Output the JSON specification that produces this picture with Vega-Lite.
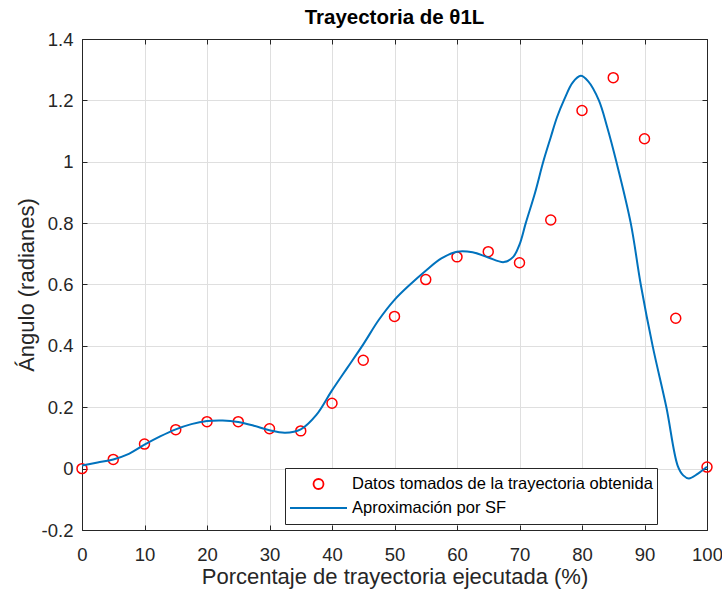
{
  "$schema": "https://vega.github.io/schema/vega-lite/v6.json",
  "width": 625,
  "height": 491,
  "autosize": "none",
  "padding": {"left": 82, "top": 39, "right": 15, "bottom": 65},
  "background": "white",
  "title": {"text": "Trayectoria de θ1L", "font": "Liberation Sans", "fontSize": 20.5, "fontWeight": "bold", "color": "#000000", "offset": 2},
  "config": {
    "view": {"stroke": "#262626", "strokeWidth": 1},
    "axis": {"labelFont": "Liberation Sans", "titleFont": "Liberation Sans", "labelColor": "#262626", "titleColor": "#262626", "domainColor": "#262626", "tickColor": "#262626", "gridColor": "#dfdfdf", "gridOpacity": 1, "titleFontWeight": "normal", "labelFlush": false, "labelOverlap": false}
  },
  "datasets": {
    "pts": [
      {"x": 0, "y": 0.0, "serie": "Datos tomados de la trayectoria obtenida"},
      {"x": 5, "y": 0.03, "serie": "Datos tomados de la trayectoria obtenida"},
      {"x": 10, "y": 0.08, "serie": "Datos tomados de la trayectoria obtenida"},
      {"x": 15, "y": 0.127, "serie": "Datos tomados de la trayectoria obtenida"},
      {"x": 20, "y": 0.153, "serie": "Datos tomados de la trayectoria obtenida"},
      {"x": 25, "y": 0.153, "serie": "Datos tomados de la trayectoria obtenida"},
      {"x": 30, "y": 0.13, "serie": "Datos tomados de la trayectoria obtenida"},
      {"x": 35, "y": 0.123, "serie": "Datos tomados de la trayectoria obtenida"},
      {"x": 40, "y": 0.213, "serie": "Datos tomados de la trayectoria obtenida"},
      {"x": 45, "y": 0.353, "serie": "Datos tomados de la trayectoria obtenida"},
      {"x": 50, "y": 0.496, "serie": "Datos tomados de la trayectoria obtenida"},
      {"x": 55, "y": 0.616, "serie": "Datos tomados de la trayectoria obtenida"},
      {"x": 60, "y": 0.69, "serie": "Datos tomados de la trayectoria obtenida"},
      {"x": 65, "y": 0.707, "serie": "Datos tomados de la trayectoria obtenida"},
      {"x": 70, "y": 0.671, "serie": "Datos tomados de la trayectoria obtenida"},
      {"x": 75, "y": 0.81, "serie": "Datos tomados de la trayectoria obtenida"},
      {"x": 80, "y": 1.167, "serie": "Datos tomados de la trayectoria obtenida"},
      {"x": 85, "y": 1.274, "serie": "Datos tomados de la trayectoria obtenida"},
      {"x": 90, "y": 1.075, "serie": "Datos tomados de la trayectoria obtenida"},
      {"x": 95, "y": 0.49, "serie": "Datos tomados de la trayectoria obtenida"},
      {"x": 100, "y": 0.005, "serie": "Datos tomados de la trayectoria obtenida"}
    ],
    "curve": [
      {"x": 0, "y": 0.01, "serie": "Aproximación por SF"},
      {"x": 2.5, "y": 0.02, "serie": "Aproximación por SF"},
      {"x": 5, "y": 0.03, "serie": "Aproximación por SF"},
      {"x": 7.5, "y": 0.048, "serie": "Aproximación por SF"},
      {"x": 10, "y": 0.078, "serie": "Aproximación por SF"},
      {"x": 12.5, "y": 0.105, "serie": "Aproximación por SF"},
      {"x": 15, "y": 0.128, "serie": "Aproximación por SF"},
      {"x": 17.5, "y": 0.145, "serie": "Aproximación por SF"},
      {"x": 20, "y": 0.155, "serie": "Aproximación por SF"},
      {"x": 22.5, "y": 0.157, "serie": "Aproximación por SF"},
      {"x": 25, "y": 0.152, "serie": "Aproximación por SF"},
      {"x": 27.5, "y": 0.14, "serie": "Aproximación por SF"},
      {"x": 30, "y": 0.125, "serie": "Aproximación por SF"},
      {"x": 32.5, "y": 0.117, "serie": "Aproximación por SF"},
      {"x": 35, "y": 0.128, "serie": "Aproximación por SF"},
      {"x": 37.5, "y": 0.175, "serie": "Aproximación por SF"},
      {"x": 40, "y": 0.255, "serie": "Aproximación por SF"},
      {"x": 42.5, "y": 0.33, "serie": "Aproximación por SF"},
      {"x": 45, "y": 0.405, "serie": "Aproximación por SF"},
      {"x": 47.5, "y": 0.485, "serie": "Aproximación por SF"},
      {"x": 50, "y": 0.55, "serie": "Aproximación por SF"},
      {"x": 52.5, "y": 0.6, "serie": "Aproximación por SF"},
      {"x": 55, "y": 0.645, "serie": "Aproximación por SF"},
      {"x": 57.5, "y": 0.685, "serie": "Aproximación por SF"},
      {"x": 60, "y": 0.707, "serie": "Aproximación por SF"},
      {"x": 62.5, "y": 0.705, "serie": "Aproximación por SF"},
      {"x": 65, "y": 0.688, "serie": "Aproximación por SF"},
      {"x": 67.5, "y": 0.673, "serie": "Aproximación por SF"},
      {"x": 69, "y": 0.69, "serie": "Aproximación por SF"},
      {"x": 70, "y": 0.73, "serie": "Aproximación por SF"},
      {"x": 71, "y": 0.8, "serie": "Aproximación por SF"},
      {"x": 72.5, "y": 0.9, "serie": "Aproximación por SF"},
      {"x": 73.8, "y": 1.0, "serie": "Aproximación por SF"},
      {"x": 75, "y": 1.08, "serie": "Aproximación por SF"},
      {"x": 76, "y": 1.145, "serie": "Aproximación por SF"},
      {"x": 77.2, "y": 1.205, "serie": "Aproximación por SF"},
      {"x": 78.5, "y": 1.258, "serie": "Aproximación por SF"},
      {"x": 79.8, "y": 1.28, "serie": "Aproximación por SF"},
      {"x": 81, "y": 1.262, "serie": "Aproximación por SF"},
      {"x": 82.7, "y": 1.2, "serie": "Aproximación por SF"},
      {"x": 84, "y": 1.115, "serie": "Aproximación por SF"},
      {"x": 85.5, "y": 1.0, "serie": "Aproximación por SF"},
      {"x": 87.8, "y": 0.8, "serie": "Aproximación por SF"},
      {"x": 89.4, "y": 0.6, "serie": "Aproximación por SF"},
      {"x": 91.3, "y": 0.4, "serie": "Aproximación por SF"},
      {"x": 93.5, "y": 0.2, "serie": "Aproximación por SF"},
      {"x": 95.3, "y": 0.01, "serie": "Aproximación por SF"},
      {"x": 96.2, "y": -0.022, "serie": "Aproximación por SF"},
      {"x": 97.1, "y": -0.032, "serie": "Aproximación por SF"},
      {"x": 98.5, "y": -0.017, "serie": "Aproximación por SF"},
      {"x": 100, "y": 0.006, "serie": "Aproximación por SF"}
    ]
  },
  "layer": [
    {
      "data": {"name": "pts"},
      "mark": {"type": "point", "filled": false, "strokeWidth": 1.5, "size": 3249, "opacity": 1},
      "encoding": {
        "x": {"field": "x", "type": "quantitative", "scale": {"domain": [0, 100], "nice": false},
          "axis": {"orient": "bottom", "title": "Porcentaje de trayectoria ejecutada (%)", "values": [0,10,20,30,40,50,60,70,80,90,100], "labelFontSize": 18.5, "titleFontSize": 22, "tickSize": -5, "labelPadding": 20, "titlePadding": 3, "grid": true}},
        "y": {"field": "y", "type": "quantitative", "scale": {"domain": [-0.2, 1.4], "nice": false, "zero": false},
          "axis": {"orient": "left", "title": "Ángulo (radianes)", "values": [-0.2,0,0.2,0.4,0.6,0.8,1,1.2,1.4], "labelExpr": "replace(format(datum.value, '~g'), '−', '-')", "labelFontSize": 18.5, "titleFontSize": 22, "tickSize": -5, "labelPadding": 14, "titlePadding": 3, "grid": true}},
        "color": {"field": "serie", "type": "nominal",
          "scale": {"domain": ["Datos tomados de la trayectoria obtenida", "Aproximación por SF"], "range": ["#ff0000", "#0072bd"]},
          "legend": {"title": null, "orient": "none", "legendX": 203, "legendY": 429, "direction": "vertical",
            "fillColor": "white", "strokeColor": "#262626", "padding": 4, "cornerRadius": 0,
            "labelFont": "Liberation Sans", "labelFontSize": 16.5, "labelColor": "#000000", "labelOffset": 4, "labelLimit": 0,
            "symbolSize": 3249, "symbolStrokeWidth": 1.8, "clipHeight": 24, "rowPadding": 0}},
        "shape": {"field": "serie", "type": "nominal",
          "scale": {"domain": ["Datos tomados de la trayectoria obtenida", "Aproximación por SF"], "range": ["M-0.175,0A0.175,0.175,0,1,1,0.175,0A0.175,0.175,0,1,1,-0.175,0Z", "stroke"]},
          "legend": {"title": null, "orient": "none", "legendX": 203, "legendY": 429, "direction": "vertical",
            "fillColor": "white", "strokeColor": "#262626", "padding": 4, "cornerRadius": 0,
            "labelFont": "Liberation Sans", "labelFontSize": 16.5, "labelColor": "#000000", "labelOffset": 4, "labelLimit": 0,
            "symbolSize": 3249, "symbolStrokeWidth": 1.8, "clipHeight": 24, "rowPadding": 0}}
      }
    },
    {
      "data": {"name": "curve"},
      "mark": {"type": "line", "strokeWidth": 2, "interpolate": "catmull-rom"},
      "encoding": {
        "x": {"field": "x", "type": "quantitative", "axis": {"orient": "top", "title": null, "labels": false, "values": [0,10,20,30,40,50,60,70,80,90,100], "tickSize": -5, "grid": false}},
        "y": {"field": "y", "type": "quantitative", "axis": {"orient": "right", "title": null, "labels": false, "values": [-0.2,0,0.2,0.4,0.6,0.8,1,1.2,1.4], "tickSize": -5, "grid": false}},
        "color": {"field": "serie", "type": "nominal"}
      }
    }
  ]
}
